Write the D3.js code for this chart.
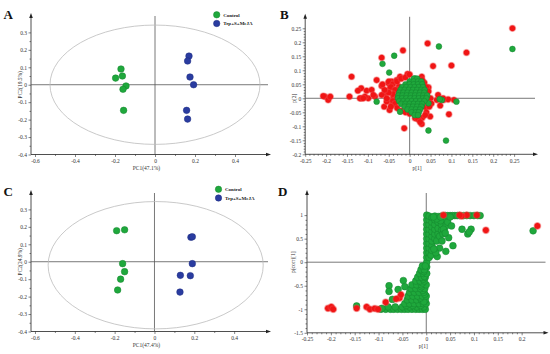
<!DOCTYPE html>
<html>
<head>
<meta charset="utf-8">
<script src="https://cdn.jsdelivr.net/npm/d3@7"></script>
<style>
  body { margin: 0; background: #fff; }
  text { font-family: "Liberation Serif", "DejaVu Serif", serif; }
</style>
</head>
<body>
<svg id="vis" width="550" height="354"></svg>
<script>
// ---- panel A (PCA scores) ----
const aControl = [[-0.17,0.09],[-0.197,0.038],[-0.163,0.05],[-0.145,-0.007],[-0.16,-0.026],[-0.157,-0.147]];
const aTreat = [[0.17,0.164],[0.163,0.136],[0.175,0.044],[0.193,0],[0.158,-0.147],[0.163,-0.197]];
// ---- panel C (PCA scores) ----
const cControl = [[-0.19,0.178],[-0.15,0.183],[-0.16,-0.011],[-0.15,-0.057],[-0.17,-0.1],[-0.185,-0.162]];
const cTreat = [[0.183,0.14],[0.19,0.143],[0.19,-0.011],[0.13,-0.078],[0.18,-0.08],[0.128,-0.174]];

const pcaXTicks = [-0.6,-0.4,-0.2,0,0.2,0.4];
const pcaYTicks = [-0.4,-0.3,-0.2,-0.1,0,0.1,0.2,0.3];
const legendNames = ["Control","Trp+S+MeJA"];

// ---- panel B (loadings) ----
const bRed = [[0.246,0.25],[0.043,0.196],[-0.016,0.171],[0.136,0.163],[-0.067,0.145],[0.056,0.115],[0.1,0.117],
  [-0.139,0.077],[-0.005,0.087],[-0.079,0.065],[-0.116,0.036],[-0.103,0.027],[-0.124,0.027],[-0.091,0.03],
  [-0.144,0.006],[-0.203,0.006],[-0.195,-0.006],[-0.19,0.006],[-0.207,0.008],[-0.116,0],[-0.099,0],[-0.083,0.006],
  [-0.107,0.006],[-0.119,0],[-0.111,0],[-0.087,0.012],[-0.067,0.044],[-0.059,0.018],[-0.061,-0.03],[-0.048,-0.042],
  [-0.051,-0.006],[-0.039,0.006],[-0.047,0.036],[-0.043,0.06],[-0.031,0.065],[-0.023,0.077],[-0.013,-0.107],
  [0.029,-0.092],[0.022,-0.071],[0.049,-0.065],[0.094,-0.057],[0.073,-0.026],[0.081,-0.006],[0.106,-0.006],
  [0.045,0.039],[0.035,0.056],[0.029,0.077],[0.041,0.018],[0.037,-0.006],[0.038,-0.032],[0.092,-0.004],
  [0.065,-0.006],[-0.051,0.054],[-0.026,0.042],[-0.033,-0.006],[-0.03,0.03],[-0.043,-0.024],[0.013,-0.071],
  [0.005,-0.042],[-0.055,-0.012],[-0.067,0.012],[-0.05,0.06],[-0.04,0.05],[-0.03,0.06],[-0.02,0.07],[-0.01,0.075],
  [-0.045,0.04],[-0.035,0.03],[-0.04,0.015],[-0.05,0.02],[-0.03,0],[-0.04,-0.01],[-0.035,-0.02],[-0.03,-0.035],
  [-0.045,-0.03],[-0.055,0],[-0.06,0.03],[-0.065,0.05],[-0.02,-0.045],[-0.01,-0.05],[0,-0.055],[0.03,-0.07],
  [0.02,-0.075],[0.025,-0.085],[0,0.085],[0.03,0.065],[0.04,0.04],[0.045,0.025],[0.05,0],[0.045,-0.02],
  [0.068,0.012],[0.08,0],[0.052,-0.019],[0.047,-0.03],[0.04,-0.05],[0.037,-0.06]];
const bGreen = [[0.246,0.176],[0.07,0.185],[-0.037,0.152],[-0.065,0.123],[-0.049,0.092],[-0.079,-0.012],
  [-0.023,-0.048],[0.045,-0.115],[0.087,-0.151],[0.112,-0.012],[0.077,-0.006],[0.072,-0.003],[0.045,-0.018],[0.013,0.071],
  [0.01,0.07],[0.018,0.07],
  [0,0.06],[0.01,0.06],[0.02,0.06],[0.028,0.06],
  [-0.01,0.05],[0,0.05],[0.01,0.05],[0.02,0.05],[0.03,0.05],
  [-0.018,0.04],[-0.008,0.04],[0.002,0.04],[0.012,0.04],[0.022,0.04],[0.032,0.04],
  [-0.022,0.03],[-0.012,0.03],[-0.002,0.03],[0.008,0.03],[0.018,0.03],[0.028,0.03],[0.036,0.03],
  [-0.025,0.02],[-0.015,0.02],[-0.005,0.02],[0.005,0.02],[0.015,0.02],[0.025,0.02],[0.035,0.02],
  [-0.027,0.01],[-0.017,0.01],[-0.007,0.01],[0.003,0.01],[0.013,0.01],[0.023,0.01],[0.033,0.01],[0.042,0.01],
  [-0.028,0],[-0.018,0],[-0.008,0],[0.002,0],[0.012,0],[0.022,0],[0.032,0],[0.04,0],
  [-0.025,-0.01],[-0.015,-0.01],[-0.005,-0.01],[0.005,-0.01],[0.015,-0.01],[0.025,-0.01],[0.035,-0.01],
  [-0.02,-0.02],[-0.01,-0.02],[0,-0.02],[0.01,-0.02],[0.02,-0.02],[0.03,-0.02],
  [-0.012,-0.03],[-0.002,-0.03],[0.008,-0.03],[0.018,-0.03],[0.028,-0.03],
  [-0.005,-0.04],[0.005,-0.04],[0.015,-0.04],[0.025,-0.04],
  [0.005,-0.05],[0.015,-0.05],[0.022,-0.05],[0.012,-0.06],[0.02,-0.06]];
const bXTicks = [-0.25,-0.2,-0.15,-0.1,-0.05,0,0.05,0.1,0.15,0.2,0.25];
const bYTicks = [-0.2,-0.15,-0.1,-0.05,0,0.05,0.1,0.15,0.2,0.25];

// ---- panel D (S-plot) ----
const dGreen = [
  [0.001,-0.1],[0.001,0],[0.001,0.1],[0.001,0.2],[0.001,0.3],[0.001,0.4],[0.001,0.5],[0.001,0.6],[0.001,0.7],[0.001,0.8],[0.001,0.9],[0.001,1.0],
  [0.006,0.1],[0.006,0.2],[0.006,0.3],[0.006,0.4],[0.006,0.5],[0.006,0.6],[0.006,0.7],[0.006,0.8],[0.006,0.9],[0.006,0.98],
  [0.012,0.35],[0.012,0.45],[0.012,0.55],[0.012,0.65],[0.012,0.75],[0.012,0.85],[0.012,0.95],
  [0.018,0.5],[0.018,0.6],[0.018,0.7],[0.018,0.8],[0.018,0.9],[0.018,0.98],
  [0.025,0.6],[0.025,0.72],[0.025,0.85],[0.025,0.97],[0.032,0.68],[0.032,0.8],[0.032,0.98],[0.04,0.75],[0.04,0.9],[0.04,0.99],
  [0.022,0.45],[0.028,0.55],[0.035,0.6],[0.03,0.88],[0.036,0.7],[0.045,0.85],[0.022,0.92],[0.01,0.15],[0.012,0.25],
  [0.045,0.99],[0.05,0.99],[0.055,0.99],[0.06,0.99],[0.065,0.99],[0.07,0.99],[0.078,0.99],[0.085,0.99],[0.092,0.99],[0.1,0.99],[0.108,0.99],[0.113,0.99],
  [0.015,0.96],[0.03,0.96],[0.05,0.96],
  [0.053,0.77],[0.033,0.45],[0.047,0.52],[0.04,0.62],[0.028,0.3],[0.041,0.23],[0.056,0.35],[0.023,0.12],
  [0.075,0.7],[0.094,0.7],[0.087,0.6],[0.09,0.64],[0.02,0.2],[0.016,0.28],[0.224,0.667],
  [-0.095,-1],[-0.085,-1],[-0.075,-1],[-0.068,-1],[-0.06,-1],[-0.052,-1],[-0.045,-1],[-0.038,-1],[-0.03,-1],[-0.022,-1],[-0.015,-1],[-0.008,-1],[-0.002,-1],
  [-0.08,-0.95],[-0.065,-0.95],[-0.05,-0.95],[-0.035,-0.95],[-0.02,-0.95],[-0.005,-0.95],
  [-0.042,-0.92],[-0.028,-0.92],[-0.012,-0.92],
  [-0.045,-0.88],[-0.035,-0.88],[-0.025,-0.88],[-0.015,-0.88],[-0.006,-0.88],[0,-0.88],
  [-0.04,-0.8],[-0.03,-0.8],[-0.02,-0.8],[-0.01,-0.8],[-0.002,-0.8],[-0.005,-0.84],[-0.012,-0.76],
  [-0.038,-0.72],[-0.028,-0.72],[-0.018,-0.72],[-0.008,-0.72],[0,-0.72],[-0.003,-0.68],
  [-0.035,-0.64],[-0.025,-0.64],[-0.015,-0.64],[-0.005,-0.64],[-0.007,-0.6],
  [-0.032,-0.56],[-0.022,-0.56],[-0.012,-0.56],[-0.003,-0.56],[-0.01,-0.52],
  [-0.03,-0.48],[-0.02,-0.48],[-0.01,-0.48],[0,-0.48],[-0.008,-0.44],
  [-0.022,-0.4],[-0.013,-0.4],[-0.004,-0.4],[-0.006,-0.36],[-0.018,-0.32],[-0.01,-0.32],[-0.002,-0.32],[-0.004,-0.3],
  [-0.014,-0.24],[-0.006,-0.24],[0.001,-0.24],[-0.005,-0.2],[-0.011,-0.16],[-0.004,-0.16],[-0.008,-0.08],[-0.002,-0.08],
  [-0.146,-0.93],[-0.093,-0.98],[-0.078,-0.5],[-0.078,-0.62],[-0.048,-0.39],[-0.059,-0.58],[-0.045,-0.52],[-0.071,-0.79]];
const dRed = [[0.233,0.77],[0.125,0.68],[0.106,1.0],[0.085,1.0],[0.074,0.98],[0.07,1.0],[0.036,1.0],
  [-0.206,-0.98],[-0.199,-0.95],[-0.195,-1.0],[-0.146,-0.98],[-0.125,-0.95],[-0.118,-1.0],[-0.108,-0.985],
  [-0.101,-1.0],[-0.085,-0.85],[-0.056,-0.76],[-0.053,-0.69],[-0.063,-0.78]];
const dXTicks = [-0.25,-0.2,-0.15,-0.1,-0.05,0,0.05,0.1,0.15,0.2];
const dYTicks = [-1.5,-1,-0.5,0,0.5,1];

const svg = d3.select("#vis");
const defs = svg.append("defs");
let grad = defs.append("radialGradient").attr("id", "redGlow");
grad.append("stop").attr("offset", "0%").attr("stop-color", "#f01515");
grad.append("stop").attr("offset", "62%").attr("stop-color", "#f01515");
grad.append("stop").attr("offset", "100%").attr("stop-color", "#f05050").attr("stop-opacity", 0.25);

function minorTicks(major, n) {
  let out = [];
  for (let i = 0; i < major.length - 1; i++) {
    let step = (major[i+1] - major[i]) / n;
    for (let k = 1; k < n; k++) out.push(major[i] + k * step);
  }
  return out;
}

function drawPanel(p) {
  let g = svg.append("g");
  let x = d3.scaleLinear().domain(p.xDomain).range(p.xRange);
  let y = d3.scaleLinear().domain(p.yDomain).range(p.yRange);
  let bottom = p.yRange[0], left = p.xRange[0];
  let right = p.xRange[1], top = p.yRange[1];

  // minor ticks
  g.append("g").attr("transform", `translate(0,${bottom})`)
    .call(d3.axisBottom(x).tickValues(minorTicks(p.xTicks, p.xMinor)).tickSize(1.5).tickFormat(""));
  g.append("g").attr("transform", `translate(${left},0)`)
    .call(d3.axisLeft(y).tickValues(minorTicks(p.yTicks, p.yMinor)).tickSize(1.5).tickFormat(""));
  // major ticks
  g.append("g").attr("transform", `translate(0,${bottom})`)
    .call(d3.axisBottom(x).tickValues(p.xTicks).tickSize(2.5).tickPadding(2).tickFormat(d => String(d)));
  g.append("g").attr("transform", `translate(${left},0)`)
    .call(d3.axisLeft(y).tickValues(p.yTicks).tickSize(2.5).tickPadding(1.5).tickFormat(d => String(d)));
  g.selectAll(".domain").remove();
  g.selectAll(".tick line").attr("stroke", "#333").attr("stroke-width", 0.6);
  g.selectAll(".tick text").attr("fill", "#333").style("font-size", "5.5px")
    .style("font-family", "'Liberation Serif', serif");

  // axes with arrows
  g.append("line").attr("x1", left).attr("x2", right).attr("y1", bottom).attr("y2", bottom)
    .attr("stroke", "#222").attr("stroke-width", 0.8);
  g.append("line").attr("x1", left).attr("x2", left).attr("y1", bottom).attr("y2", top)
    .attr("stroke", "#222").attr("stroke-width", 0.8);
  g.append("path").attr("d", `M${right+3},${bottom}L${right-2},${bottom-1.8}L${right-2},${bottom+1.8}Z`).attr("fill", "#222");
  g.append("path").attr("d", `M${left},${top-3}L${left-1.8},${top+2}L${left+1.8},${top+2}Z`).attr("fill", "#222");

  // zero lines
  g.append("line").attr("x1", x(0)).attr("x2", x(0)).attr("y1", top).attr("y2", bottom)
    .attr("stroke", "#555").attr("stroke-width", 0.8);
  g.append("line").attr("x1", left).attr("x2", right).attr("y1", y(0)).attr("y2", y(0))
    .attr("stroke", "#555").attr("stroke-width", 0.8);

  if (p.ellipse) {
    let e = p.ellipse;
    g.append("ellipse").attr("cx", x(e[0])).attr("cy", y(e[1]))
      .attr("rx", x(e[2]) - x(0)).attr("ry", y(0) - y(e[3]))
      .attr("fill", "none").attr("stroke", "#bbb").attr("stroke-width", 0.8);
  }

  p.layers.forEach(layer => {
    g.append("g").selectAll("circle")
      .data(layer.data)
      .enter()
      .append("circle")
      .attr("cx", d => x(d[0]))
      .attr("cy", d => y(d[1]))
      .attr("r", layer.r)
      .attr("fill", layer.fill)
      .attr("stroke", layer.stroke || "none")
      .attr("stroke-width", 0.5);
  });

  // axis titles
  g.append("text").attr("x", (left + right) / 2 - 3).attr("y", p.xLabelY)
    .attr("text-anchor", "middle").style("font-size", "5.5px").attr("fill", "#333").text(p.xLabel);
  g.append("text").attr("transform", `translate(${p.yLabelX},${y(0)}) rotate(-90)`)
    .attr("text-anchor", "middle").style("font-size", "5.5px").attr("fill", "#333").text(p.yLabel);

  g.append("text").attr("x", p.letter[1]).attr("y", p.letter[2])
    .style("font-size", "13px").style("font-weight", "bold").attr("fill", "#111").text(p.letter[0]);

  if (p.legend) {
    let lg = p.legend;
    [["#1fa83c", "#15852e"], ["#2a3ca0", "#1d2c80"]].forEach((c, i) => {
      g.append("circle").attr("cx", lg[0]).attr("cy", lg[1] + i * 8.7).attr("r", 3.2)
        .attr("fill", c[0]).attr("stroke", c[1]).attr("stroke-width", 0.5);
      g.append("text").attr("x", lg[0] + 6.5).attr("y", lg[1] + i * 8.7 + 1.8)
        .style("font-size", "5px").style("font-weight", "bold").attr("fill", "#222").text(legendNames[i]);
    });
  }
}

const green = "#1fa83c", greenEdge = "#15852e", blue = "#2a3ca0", blueEdge = "#1d2c80";

drawPanel({
  xDomain: [-0.62, 0.565], xRange: [31, 268], yDomain: [-0.4, 0.394], yRange: [154.5, 16],
  xTicks: pcaXTicks, yTicks: pcaYTicks, xMinor: 2, yMinor: 2,
  ellipse: [0, 0, 0.525, 0.342],
  layers: [{data: aControl, r: 3.3, fill: green, stroke: greenEdge}, {data: aTreat, r: 3.3, fill: blue, stroke: blueEdge}],
  xLabel: "PC1(47.1%)", yLabel: "PC2(19.5%)", xLabelY: 170, yLabelX: 22,
  letter: ["A", 3.5, 18.5], legend: [216.7, 14.8]
});

drawPanel({
  xDomain: [-0.25, 0.3], xRange: [305.2, 535], yDomain: [-0.2, 0.291], yRange: [154.3, 16.8],
  xTicks: bXTicks, yTicks: bYTicks, xMinor: 5, yMinor: 5,
  layers: [{data: bRed, r: 3.8, fill: "url(#redGlow)"}, {data: bGreen, r: 2.9, fill: green, stroke: greenEdge}],
  xLabel: "p[1]", yLabel: "p[2]", xLabelY: 170, yLabelX: 296,
  letter: ["B", 280, 18.5]
});

drawPanel({
  xDomain: [-0.62, 0.57], xRange: [31, 268], yDomain: [-0.4, 0.394], yRange: [331.5, 193],
  xTicks: pcaXTicks, yTicks: pcaYTicks, xMinor: 2, yMinor: 2,
  ellipse: [0.006, -0.02, 0.54, 0.365],
  layers: [{data: cControl, r: 3.3, fill: green, stroke: greenEdge}, {data: cTreat, r: 3.3, fill: blue, stroke: blueEdge}],
  xLabel: "PC1(47.4%)", yLabel: "PC2(24.9%)", xLabelY: 347, yLabelX: 22,
  letter: ["C", 3.5, 195.5], legend: [218.5, 189.3]
});

drawPanel({
  xDomain: [-0.25, 0.25], xRange: [307, 545.5], yDomain: [-1.5, 1.47], yRange: [332.8, 193],
  xTicks: dXTicks, yTicks: dYTicks, xMinor: 5, yMinor: 5,
  layers: [{data: dGreen, r: 3.4, fill: green, stroke: greenEdge}, {data: dRed, r: 4, fill: "url(#redGlow)"}],
  xLabel: "p[1]", yLabel: "p(corr)[1]", xLabelY: 348, yLabelX: 295,
  letter: ["D", 278, 195.5]
});
</script>
</body>
</html>
